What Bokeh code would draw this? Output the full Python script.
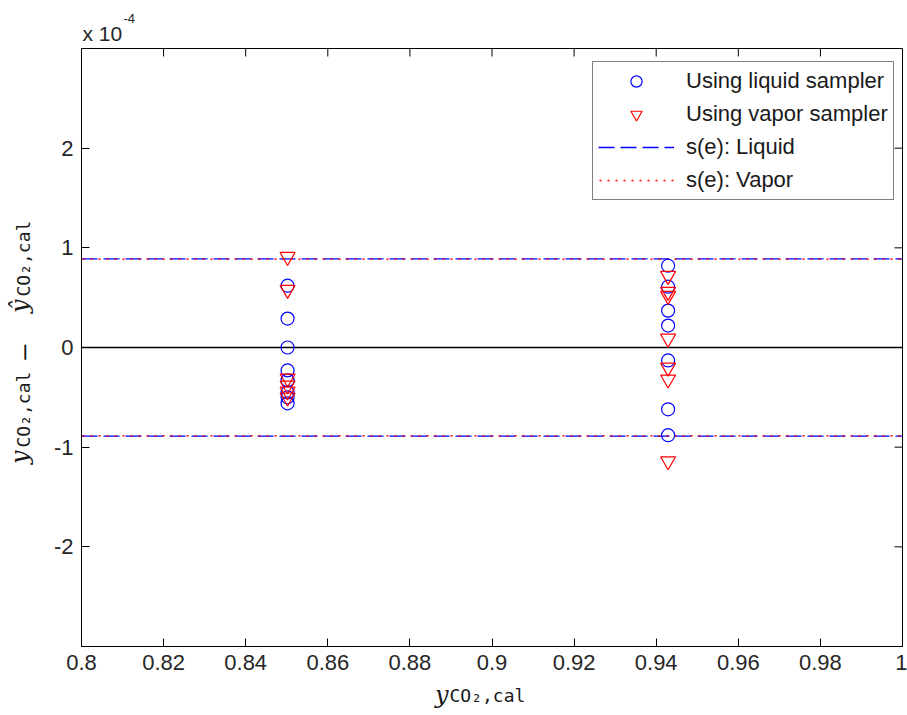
import math
from bokeh.plotting import figure
from bokeh.layouts import row, column
from bokeh.models import FixedTicker, Label, Legend, LegendItem
from bokeh.embed import file_html
from bokeh.resources import INLINE

# ---------------- data (residuals in units of 1e-4) ----------------
x_liquid = [0.8502] * 8 + [0.9429] * 7
e_liquid = [0.62, 0.29, 0.00, -0.23, -0.33, -0.45, -0.56, -0.50,
            0.82, 0.61, 0.37, 0.22, -0.13, -0.62, -0.88]
x_vapor = [0.8502] * 6 + [0.9429] * 7
e_vapor = [0.91, 0.58, -0.31, -0.38, -0.44, -0.50,
           0.72, 0.56, 0.52, 0.09, -0.20, -0.32, -1.14]
se_liquid = 0.89
se_vapor = 0.885
xlim = [0.8, 1.0]
ylim = [-3.0, 3.0]
x_ticks = [0.8, 0.82, 0.84, 0.86, 0.88, 0.9, 0.92, 0.94, 0.96, 0.98, 1.0]
x_tick_labels = ["0.8", "0.82", "0.84", "0.86", "0.88", "0.9", "0.92", "0.94", "0.96", "0.98", "1"]
y_ticks = [-2, -1, 0, 1, 2]
y_tick_labels = ["-2", "-1", "0", "1", "2"]
legend_labels = ["Using liquid sampler", "Using vapor sampler", "s(e): Liquid", "s(e): Vapor"]
exponent_text = ["x 10", "-4"]
label_main = "y"
label_hat = "ŷ"
label_sub = "CO₂,cal"

FONT = "Liberation Sans"
SERIF = "DejaVu Serif"
MONO = "DejaVu Sans Mono"
TXT = "#1a1a1a"

# ---------------- main plot ----------------
p = figure(width=857, height=634, output_backend="svg", toolbar_location=None,
           x_range=(xlim[0], xlim[1]), y_range=(ylim[0], ylim[1]),
           min_border_left=29, min_border_right=5, min_border_top=1, min_border_bottom=35,
           background_fill_color="white", border_fill_color="white")
p.xgrid.visible = False
p.ygrid.visible = False
p.outline_line_color = "black"
p.outline_line_width = 1

def style_axis(ax, ticks, labels):
    ax.ticker = FixedTicker(ticks=ticks)
    ax.major_label_overrides = {t: l for t, l in zip(ticks, labels)}
    ax.major_tick_in = 8
    ax.major_tick_out = 0
    ax.minor_tick_in = 0
    ax.minor_tick_out = 0
    ax.axis_line_color = "black"
    ax.major_tick_line_color = "black"
    ax.major_label_text_font = FONT
    ax.major_label_text_color = "#262626"
    ax.major_label_text_font_size = "22px"
    ax.major_label_standoff = 8

style_axis(p.xaxis[0], x_ticks, x_tick_labels)
style_axis(p.yaxis[0], y_ticks, y_tick_labels)

# tick marks on the top and right edges of the box (half of each dash is clipped)
p.scatter(x_ticks, [ylim[1]] * len(x_ticks), marker="dash", angle=math.pi / 2, size=16,
          line_color="black", line_width=1)
p.scatter([xlim[1]] * len(y_ticks), y_ticks, marker="dash", size=16,
          line_color="black", line_width=1)

# zero line
p.line(xlim, [0, 0], line_color="black", line_width=1.3)

# standard error lines
r_sl1 = p.line(xlim, [se_liquid, se_liquid], line_color="#0000ff", line_width=1.3, line_dash="16 6")
p.line(xlim, [-se_liquid, -se_liquid], line_color="#0000ff", line_width=1.3, line_dash="16 6")
r_sv1 = p.line(xlim, [se_vapor, se_vapor], line_color="#ff0000", line_width=1.5, line_dash="2 6",
               line_dash_offset=-17)
p.line(xlim, [-se_vapor, -se_vapor], line_color="#ff0000", line_width=1.5, line_dash="2 6",
       line_dash_offset=-17)

# points
r_liq = p.scatter(x_liquid, e_liquid, marker="circle", size=13, fill_color=None,
                  line_color="#0000ff", line_width=1.2)
r_vap = p.scatter(x_vapor, e_vapor, marker="inverted_triangle", size=15, fill_color=None,
                  line_color="#ff0000", line_width=1.2)

legend = Legend(items=[
    LegendItem(label=legend_labels[0], renderers=[r_liq]),
    LegendItem(label=legend_labels[1], renderers=[r_vap]),
    LegendItem(label=legend_labels[2], renderers=[r_sl1]),
    LegendItem(label=legend_labels[3], renderers=[r_sv1]),
], location=(511, 446))
legend.margin = 0
legend.padding = 5
legend.spacing = 5
legend.glyph_width = 76
legend.glyph_height = 28
legend.label_height = 28
legend.label_standoff = 12
legend.label_text_font = FONT
legend.label_text_font_size = "22px"
legend.label_text_color = TXT
legend.border_line_color = "black"
legend.border_line_width = 1
legend.background_fill_color = "white"
legend.background_fill_alpha = 1
p.add_layout(legend, "center")

# ---------------- helper figures carrying the axis titles ----------------
def blank(w, h, keep_title=True):
    kw = {} if keep_title else {"title": None}
    f = figure(width=w, height=h, output_backend="svg", toolbar_location=None,
               x_range=(0, w), y_range=(0, h), x_axis_type=None, y_axis_type=None,
               min_border=0, min_border_left=0, min_border_right=0,
               min_border_top=0, min_border_bottom=0,
               background_fill_color="white", border_fill_color="white", **kw)
    f.xgrid.visible = False
    f.ygrid.visible = False
    f.outline_line_color = None
    return f

# left strip: rotated y title
yfig = blank(50, 715)
ang = math.pi / 2
yfig.add_layout(Label(x=19, y=265, text=label_main, angle=ang, text_font=SERIF,
                      text_font_style="italic", text_font_size="24px", text_align="right",
                      text_baseline="alphabetic", text_color=TXT))
yfig.add_layout(Label(x=23, y=268, text=label_sub, angle=ang, text_font=MONO,
                      text_font_size="18px", text_align="left",
                      text_baseline="alphabetic", text_color=TXT))
yfig.add_layout(Label(x=23, y=363, text="−", angle=ang, text_font=SERIF,
                      text_font_size="24px", text_align="center",
                      text_baseline="alphabetic", text_color=TXT))
yfig.add_layout(Label(x=19, y=416, text=label_hat, angle=ang, text_font=SERIF,
                      text_font_style="italic", text_font_size="24px", text_align="right",
                      text_baseline="alphabetic", text_color=TXT))
yfig.add_layout(Label(x=23, y=419, text=label_sub, angle=ang, text_font=MONO,
                      text_font_size="18px", text_align="left",
                      text_baseline="alphabetic", text_color=TXT))

# top strip: exponent (screen units, measured from the aligned frame's bottom-left)
topfig = blank(857, 47, keep_title=False)
topfig.add_layout(Label(x=1, y=14, x_units="screen", y_units="screen", text=exponent_text[0],
                        text_font=FONT, text_font_size="21px", text_align="left",
                        text_baseline="alphabetic", text_color="#262626"))
topfig.add_layout(Label(x=42, y=29, x_units="screen", y_units="screen", text=exponent_text[1],
                        text_font=FONT, text_font_size="13px", text_align="left",
                        text_baseline="alphabetic", text_color="#262626"))

# bottom strip: x title
xfig = blank(857, 34, keep_title=False)
xfig.add_layout(Label(x=367, y=21, x_units="screen", y_units="screen", text=label_main,
                      text_font=SERIF, text_font_style="italic", text_font_size="24px",
                      text_align="right", text_baseline="alphabetic", text_color=TXT))
xfig.add_layout(Label(x=368, y=20, x_units="screen", y_units="screen", text=label_sub,
                      text_font=MONO, text_font_size="18px", text_align="left",
                      text_baseline="alphabetic", text_color=TXT))

layout = row(yfig, column(topfig, p, xfig, spacing=0), spacing=0)
open("out.html", "w").write(file_html(layout, INLINE))
